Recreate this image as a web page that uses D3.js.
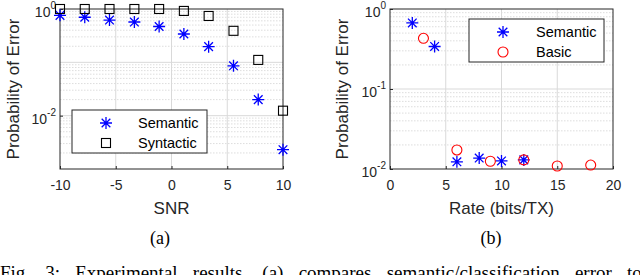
<!DOCTYPE html>
<meta charset="utf-8">
<html>
<head>
<script src="https://cdn.jsdelivr.net/npm/d3@7"></script>
<style>
  body { margin: 0; background: #fff; }
  svg { display: block; }
  .tick text { font-family: "Liberation Sans", Arial, sans-serif; fill: #262626; }
</style>
</head>
<body>
<div id="fig"></div>
<script>
// (a) error vs SNR
const snr = [-10, -7.78, -5.56, -3.33, -1.11, 1.11, 3.33, 5.56, 7.78, 10];
const semanticA = [0.76, 0.70, 0.62, 0.57, 0.47, 0.34, 0.197, 0.086, 0.020, 0.0023];
const syntacticA = [1, 1, 1, 1, 1, 0.92, 0.74, 0.39, 0.111, 0.0124];

// (b) error vs rate
const rateSem = [2, 4, 6, 8, 10, 12];
const semanticB = [0.67, 0.34, 0.0123, 0.0137, 0.0126, 0.013];
const rateBasic = [3, 6, 9, 12, 15, 18];
const basicB = [0.43, 0.0173, 0.0125, 0.013, 0.0109, 0.0112];

const xTicksA = [-10, -5, 0, 5, 10];
const xTicksB = [0, 5, 10, 15, 20];
const yLabelsA = [0, -2];      // exponents shown
const yLabelsB = [0, -1, -2];

const W = 640, H = 275;
const svg = d3.select("#fig").append("svg")
  .attr("width", W).attr("height", H);

const axisColor = "#262626";
const sans = "'Liberation Sans', Arial, sans-serif";
const serif = "'Liberation Serif', 'Times New Roman', serif";

function starPath(r) {
  const d = r * 0.72;
  return `M${-r},0L${r},0M0,${-r}L0,${r}M${-d},${-d}L${d},${d}M${-d},${d}L${d},${-d}`;
}

function panel(o) {
  const g = svg.append("g");
  const x = d3.scaleLinear().domain(o.xDomain).range([o.left, o.right]);
  const y = d3.scaleLog().domain(o.yDomain).range([o.bottom, o.top]);

  // minor grid (dotted)
  const minors = [];
  for (let e = Math.round(Math.log10(o.yDomain[0])); e < 0; e++) {
    for (let k = 2; k <= 9; k++) minors.push(k * Math.pow(10, e));
  }
  g.append("g").selectAll("line").data(minors).join("line")
    .attr("x1", o.left).attr("x2", o.right)
    .attr("y1", d => y(d)).attr("y2", d => y(d))
    .attr("stroke", "#d4d4d4").attr("stroke-width", 0.8)
    .attr("stroke-dasharray", "1.5,1.5");

  // major grid
  const majY = [];
  for (let e = Math.round(Math.log10(o.yDomain[0])) + 1; e < 0; e++) majY.push(Math.pow(10, e));
  g.append("g").selectAll("line").data(majY).join("line")
    .attr("x1", o.left).attr("x2", o.right)
    .attr("y1", d => y(d)).attr("y2", d => y(d))
    .attr("stroke", "#d9d9d9").attr("stroke-width", 1);
  g.append("g").selectAll("line").data(o.xTicks.slice(1, -1)).join("line")
    .attr("x1", d => x(d)).attr("x2", d => x(d))
    .attr("y1", o.top).attr("y2", o.bottom)
    .attr("stroke", "#d9d9d9").attr("stroke-width", 1);

  // x axis
  const xa = g.append("g")
    .attr("transform", `translate(0,${o.bottom})`)
    .call(d3.axisBottom(x).tickValues(o.xTicks).tickSize(-3).tickFormat(d => String(d)));
  xa.select(".domain").remove();
  xa.selectAll("line").attr("stroke", axisColor);
  xa.selectAll("text").attr("font-size", 14).attr("dy", "0.75em").attr("y", 10);

  // y axis ticks
  const ya = g.append("g")
    .attr("transform", `translate(${o.left},0)`)
    .call(d3.axisLeft(y).tickValues(o.yLabels.map(e => Math.pow(10, e))).tickSize(-3).tickFormat(""));
  ya.select(".domain").remove();
  ya.selectAll("line").attr("stroke", axisColor);

  const lab = g.append("g").selectAll("text").data(o.yLabels).join("text")
    .attr("x", o.left - 4).attr("y", d => y(Math.pow(10, d)) + 8)
    .attr("text-anchor", "end")
    .attr("font-family", sans).attr("fill", axisColor);
  lab.append("tspan").attr("font-size", 14).text("10");
  lab.append("tspan").attr("font-size", 10).attr("dy", -8).text(d => d === 0 ? "0" : "-" + (-d));

  // box
  g.append("rect")
    .attr("x", o.left).attr("y", o.top)
    .attr("width", o.right - o.left).attr("height", o.bottom - o.top)
    .attr("fill", "none").attr("stroke", axisColor).attr("stroke-width", 1);

  // labels
  g.append("text")
    .attr("x", (o.left + o.right) / 2).attr("y", 214)
    .attr("text-anchor", "middle")
    .attr("font-family", sans).attr("font-size", 17).attr("fill", axisColor)
    .text(o.xLabel);
  g.append("text")
    .attr("transform", `translate(${o.yLabelX},${(o.top + o.bottom) / 2}) rotate(-90)`)
    .attr("text-anchor", "middle")
    .attr("font-family", sans).attr("font-size", 17).attr("fill", axisColor)
    .text("Probability of Error");
  g.append("text")
    .attr("x", o.capX).attr("y", 244)
    .attr("text-anchor", "middle")
    .attr("font-family", serif)
    .attr("font-size", 18).attr("fill", "#000")
    .text(o.caption);

  return { g, x, y };
}

function stars(g, xs, ys, x, y) {
  g.append("g").selectAll("path").data(xs).join("path")
    .attr("d", starPath(6))
    .attr("transform", (d, i) => `translate(${x(d)},${y(ys[i])})`)
    .attr("stroke", "#0000ff").attr("stroke-width", 1.3).attr("fill", "none");
}
function squares(g, xs, ys, x, y) {
  g.append("g").selectAll("rect").data(xs).join("rect")
    .attr("x", d => x(d) - 4.5).attr("y", (d, i) => y(ys[i]) - 4.5)
    .attr("width", 9).attr("height", 9)
    .attr("stroke", "#000").attr("stroke-width", 1.1).attr("fill", "none");
}
function circles(g, xs, ys, x, y) {
  g.append("g").selectAll("circle").data(xs).join("circle")
    .attr("cx", d => x(d)).attr("cy", (d, i) => y(ys[i]))
    .attr("r", 5)
    .attr("stroke", "#ff0000").attr("stroke-width", 1.1).attr("fill", "none");
}

function legend(g, bx, by, items) {
  const lg = g.append("g").attr("transform", `translate(${bx},${by})`);
  lg.append("rect").attr("width", 135).attr("height", 43)
    .attr("fill", "#fff").attr("stroke", axisColor).attr("stroke-width", 1);
  items.forEach((it, i) => {
    const cy = 13 + i * 20;
    const m = lg.append("g").attr("transform", `translate(${it.mx},${cy})`);
    if (it.type === "star") m.append("path").attr("d", starPath(6)).attr("stroke", "#0000ff").attr("stroke-width", 1.3);
    if (it.type === "square") m.append("rect").attr("x", -4.5).attr("y", -4.5).attr("width", 9).attr("height", 9).attr("fill", "none").attr("stroke", "#000").attr("stroke-width", 1.1);
    if (it.type === "circle") m.append("circle").attr("r", 5).attr("fill", "none").attr("stroke", "#ff0000").attr("stroke-width", 1.1);
    lg.append("text").attr("x", it.tx).attr("y", cy + 5)
      .attr("font-family", sans).attr("font-size", 14.5).attr("fill", "#000")
      .text(it.label);
  });
}

// panel (a)
const A = panel({
  left: 60, right: 283, top: 9, bottom: 169,
  xDomain: [-10, 10], yDomain: [1e-3, 1],
  xTicks: xTicksA, yLabels: yLabelsA,
  xLabel: "SNR", yLabelX: 19, capX: 160, caption: "(a)"
});
stars(A.g, snr, semanticA, A.x, A.y);
squares(A.g, snr, syntacticA, A.x, A.y);
legend(A.g, 72, 110, [
  { type: "star", label: "Semantic", mx: 34, tx: 66 },
  { type: "square", label: "Syntactic", mx: 34, tx: 66 }
]);

// panel (b)
const B = panel({
  left: 390, right: 613, top: 9, bottom: 169,
  xDomain: [0, 20], yDomain: [1e-2, 1],
  xTicks: xTicksB, yLabels: yLabelsB,
  xLabel: "Rate (bits/TX)", yLabelX: 348, capX: 491, caption: "(b)"
});
stars(B.g, rateSem, semanticB, B.x, B.y);
circles(B.g, rateBasic, basicB, B.x, B.y);
legend(B.g, 469, 19, [
  { type: "star", label: "Semantic", mx: 34, tx: 67 },
  { type: "circle", label: "Basic", mx: 34, tx: 67 }
]);

// figure caption, a justified line cut off by the bottom of the window
const capText = "Fig. 3: Experimental results. (a) compares semantic/classification error to";
const cap = svg.append("text")
  .attr("x", 0).attr("y", 279)
  .attr("font-family", serif)
  .attr("font-size", 19).attr("fill", "#000")
  .text(capText);
// spread the words so the last one starts near the right edge
const lastStart = cap.node().getSubStringLength(0, capText.lastIndexOf(" ") + 1);
const nGaps = capText.split(" ").length - 1;
cap.style("word-spacing", ((627 - lastStart) / nGaps) + "px");
</script>
</body>
</html>
